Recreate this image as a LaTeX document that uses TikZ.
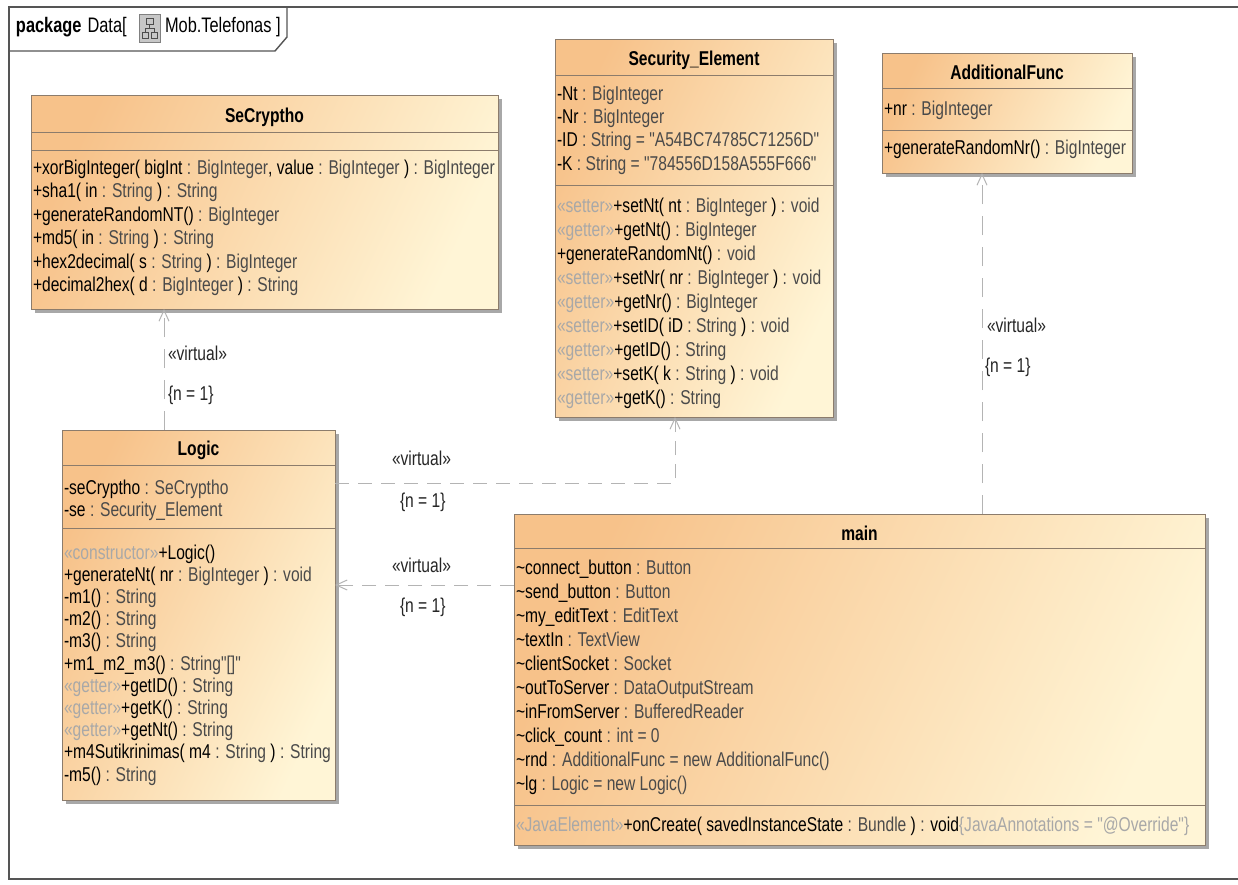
\documentclass[tikz,border=0pt]{standalone}
\usepackage{fontspec}
% member text: Arial-metric sans, narrowed; no TeX quote mapping
\newfontfamily\umlfont{Liberation Sans}[FakeStretch=0.78]
\usetikzlibrary{arrows.meta}

\definecolor{clsL}{HTML}{F7C28A}
\definecolor{clsR}{HTML}{FFF5D6}
\definecolor{clsEdge}{HTML}{8C7C6C}
\definecolor{clsShadow}{HTML}{A8A8A8}
\definecolor{typ}{HTML}{4A4A4A}
\definecolor{ster}{HTML}{A8A8A8}
\definecolor{depline}{HTML}{B4B4B4}
\definecolor{frameEdge}{HTML}{555555}

\newcommand\ty[1]{{\color{typ}\relax#1}}
\newcommand\sty[1]{{\color{ster}\relax#1}}
\newcommand\tld{\textasciitilde}

\tikzset{
  clsbox/.style={draw=clsEdge, line width=1pt, top color=clsL, bottom color=clsR,
    shading angle=65, inner sep=0pt, outer sep=0pt, anchor=north west},
  mbr/.style={anchor=base west, inner sep=0pt, outer sep=0pt, font=\umlfont\fontsize{20}{23}\selectfont},
  ttl/.style={anchor=base, inner sep=0pt, outer sep=0pt, font=\umlfont\fontsize{20}{23}\selectfont\bfseries},
  lbl/.style={anchor=base west, inner sep=0pt, outer sep=0pt, text=black!85,
    font=\umlfont\fontsize{20}{23}\selectfont},
  tab/.style={anchor=base west, inner sep=0pt, outer sep=0pt, font=\umlfont\fontsize{21}{24}\selectfont},
  dep/.style={draw=depline, line width=1pt, dash pattern=on 14pt off 9pt,
    -{Straight Barb[length=11pt,width=10pt]}},
  depv/.style={dep, dash pattern=on 19pt off 12pt},
}

% class box: name, left, top, right, bottom
\newcommand\classbox[5]{%
  \fill[clsShadow] (#2+4,#3+4) rectangle (#4+4,#5+4);
  \node[clsbox, minimum width=#4pt-#2pt, minimum height=#5pt-#3pt] (#1) at (#2,#3) {};
}
% compartment divider: left, right, y
\newcommand\divider[3]{\draw[clsEdge, line width=1pt] (#1,#3) -- (#2,#3);}
% member line: name, x, baseline, text
\newcommand\member[4]{\node[mbr] (#1) at (#2,#3) {#4};}

\begin{document}
\begin{tikzpicture}[x=1pt, y=-1pt]
\useasboundingbox (0,0) rectangle (1238,884);
\fill[white] (0,0) rectangle (1238,884);

% package frame and its name tab
\draw[frameEdge, line width=1.4pt] (9,7) rectangle (1260,879);
\draw[frameEdge, line width=1.4pt] (9,51) -- (275,51) -- (287,37) -- (287,7);
\node[tab] (pkg) at (16,32) {\textbf{package}\hspace{6pt}Data[};
\fill[black!22] (139,14) rectangle (160,42);
\draw[black!50, line width=0.8pt] (139,14) rectangle (160,42);
\draw[black!70, line width=0.8pt] (146,18) rectangle (153,24)
  (149.5,24) -- (149.5,28) (145,28) -- (154,28) (145,28) -- (145,32) (154,28) -- (154,32)
  (142,32) rectangle (148,38) (151,32) rectangle (157,38);
\node[tab] (pkgdiag) at (165,32) {Mob.Telefonas ]};

% ---------- SeCryptho ----------
\classbox{sc}{31}{95}{498}{309}
\node[ttl] (sc-t) at (264.5,122) {SeCryptho};
\divider{31}{498}{132}
\divider{31}{498}{150}
\member{sc-o1}{33}{174}{+xorBigInteger( bigInt\ty{ : BigInteger}, value\ty{ : BigInteger} )\ty{ : BigInteger}}
\member{sc-o2}{33}{197.5}{+sha1( in\ty{ : String} )\ty{ : String}}
\member{sc-o3}{33}{221}{+generateRandomNT()\ty{ : BigInteger}}
\member{sc-o4}{33}{244.5}{+md5( in\ty{ : String} )\ty{ : String}}
\member{sc-o5}{33}{268}{+hex2decimal( s\ty{ : String} )\ty{ : BigInteger}}
\member{sc-o6}{33}{291.5}{+decimal2hex( d\ty{ : BigInteger} )\ty{ : String}}

% ---------- Security_Element ----------
\classbox{se}{555}{39}{833}{417}
\node[ttl] (se-t) at (694,65) {Security\_Element};
\divider{555}{833}{75}
\divider{555}{833}{185}
\member{se-a1}{557}{100}{-Nt\ty{ : BigInteger}}
\member{se-a2}{557}{123.3}{-Nr\ty{ : BigInteger}}
\member{se-a3}{557}{146.6}{-ID\ty{ : String = "A54BC74785C71256D"}}
\member{se-a4}{557}{170}{-K\ty{ : String = "784556D158A555F666"}}
\member{se-o1}{557}{212}{\sty{«setter»}+setNt( nt\ty{ : BigInteger} )\ty{ : void}}
\member{se-o2}{557}{236}{\sty{«getter»}+getNt()\ty{ : BigInteger}}
\member{se-o3}{557}{260}{+generateRandomNt()\ty{ : void}}
\member{se-o4}{557}{284}{\sty{«setter»}+setNr( nr\ty{ : BigInteger} )\ty{ : void}}
\member{se-o5}{557}{308}{\sty{«getter»}+getNr()\ty{ : BigInteger}}
\member{se-o6}{557}{332}{\sty{«setter»}+setID( iD\ty{ : String} )\ty{ : void}}
\member{se-o7}{557}{356}{\sty{«getter»}+getID()\ty{ : String}}
\member{se-o8}{557}{380}{\sty{«setter»}+setK( k\ty{ : String} )\ty{ : void}}
\member{se-o9}{557}{404}{\sty{«getter»}+getK()\ty{ : String}}

% ---------- AdditionalFunc ----------
\classbox{af}{882}{53}{1132}{173}
\node[ttl] (af-t) at (1007,79) {AdditionalFunc};
\divider{882}{1132}{88}
\divider{882}{1132}{130}
\member{af-a1}{884}{115}{+nr\ty{ : BigInteger}}
\member{af-o1}{884}{154}{+generateRandomNr()\ty{ : BigInteger}}

% ---------- Logic ----------
\classbox{logic}{62}{430}{335}{800}
\node[ttl] (logic-t) at (198.5,455) {Logic};
\divider{62}{335}{465}
\divider{62}{335}{528}
\member{lg-a1}{64}{494}{-seCryptho\ty{ : SeCryptho}}
\member{lg-a2}{64}{516}{-se\ty{ : Security\_Element}}
\member{lg-o1}{64}{559}{\sty{«constructor»}+Logic()}
\member{lg-o2}{64}{581.2}{+generateNt( nr\ty{ : BigInteger} )\ty{ : void}}
\member{lg-o3}{64}{603.4}{-m1()\ty{ : String}}
\member{lg-o4}{64}{625.6}{-m2()\ty{ : String}}
\member{lg-o5}{64}{647.8}{-m3()\ty{ : String}}
\member{lg-o6}{64}{670}{+m1\_m2\_m3()\ty{ : String"[]"}}
\member{lg-o7}{64}{692.2}{\sty{«getter»}+getID()\ty{ : String}}
\member{lg-o8}{64}{714.4}{\sty{«getter»}+getK()\ty{ : String}}
\member{lg-o9}{64}{736.6}{\sty{«getter»}+getNt()\ty{ : String}}
\member{lg-o10}{64}{758.8}{+m4Sutikrinimas( m4\ty{ : String} )\ty{ : String}}
\member{lg-o11}{64}{781}{-m5()\ty{ : String}}

% ---------- main ----------
\classbox{main}{514}{514}{1205}{845}
\node[ttl] (main-t) at (859.5,540) {main};
\divider{514}{1205}{548}
\divider{514}{1205}{805}
\member{mn-a1}{516}{574}{\tld connect\_button\ty{ : Button}}
\member{mn-a2}{516}{598}{\tld send\_button\ty{ : Button}}
\member{mn-a3}{516}{622}{\tld my\_editText\ty{ : EditText}}
\member{mn-a4}{516}{646}{\tld textIn\ty{ : TextView}}
\member{mn-a5}{516}{670}{\tld clientSocket\ty{ : Socket}}
\member{mn-a6}{516}{694}{\tld outToServer\ty{ : DataOutputStream}}
\member{mn-a7}{516}{718}{\tld inFromServer\ty{ : BufferedReader}}
\member{mn-a8}{516}{742}{\tld click\_count\ty{ : int = 0}}
\member{mn-a9}{516}{766}{\tld rnd\ty{ : AdditionalFunc = new AdditionalFunc()}}
\member{mn-a10}{516}{790}{\tld lg\ty{ : Logic = new Logic()}}
\member{mn-o1}{516}{831}{\sty{«JavaElement»}+onCreate( savedInstanceState\ty{ : Bundle} )\ty{ : }void\sty{\{JavaAnnotations = "@Override"\}}}

% ---------- dependencies ----------
\coordinate (c1) at (164,0);
\coordinate (c2) at (675,483);
\coordinate (c3) at (0,585);
\coordinate (c4) at (982,0);
\draw[depv] (logic.north -| c1) -- (sc.south -| c1);
\draw[dep] (logic.east |- c2) -- (c2) -- (se.south -| c2);
\draw[dep] (main.west |- c3) -- (logic.east |- c3);
\draw[depv] (main.north -| c4) -- (af.south -| c4);

\node[lbl] (v1) at (168,360) {«virtual»};
\node[lbl] (n1) at (168,400) {\{n = 1\}};
\node[lbl] (v2) at (392,465) {«virtual»};
\node[lbl] (n2) at (400,507) {\{n = 1\}};
\node[lbl] (v3) at (392,572) {«virtual»};
\node[lbl] (n3) at (400,612) {\{n = 1\}};
\node[lbl] (v4) at (987,332) {«virtual»};
\node[lbl] (n4) at (985,372) {\{n = 1\}};
\end{tikzpicture}
\end{document}
